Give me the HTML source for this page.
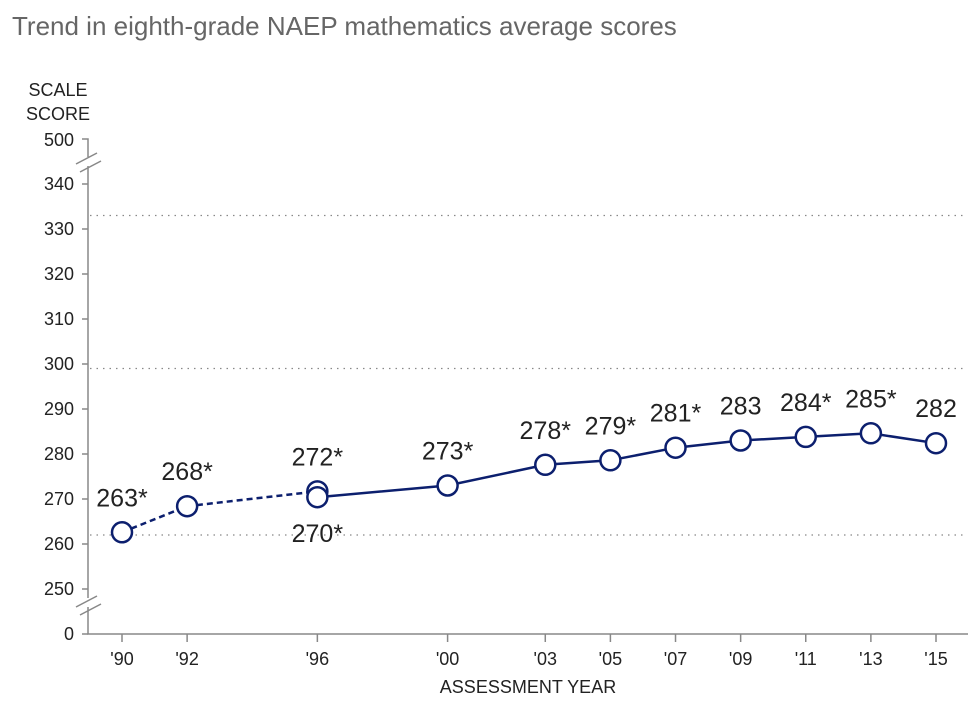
<!DOCTYPE html>
<html><head><meta charset="utf-8"><style>
body{margin:0;background:#fff;}
svg{display:block;font-family:"Liberation Sans",sans-serif;}
</style></head><body>
<svg id="c" width="977" height="706">
<text x="12" y="35" font-size="26" fill="#666">Trend in eighth-grade NAEP mathematics average scores</text>
<text x="58" y="96" font-size="18" fill="#222" text-anchor="middle">SCALE</text>
<text x="58" y="120" font-size="18" fill="#222" text-anchor="middle">SCORE</text>
<text x="528" y="693" font-size="18" fill="#222" text-anchor="middle">ASSESSMENT YEAR</text>
<g id="g"></g>
</svg>
<script>
const years=[1990,1992,1996,2000,2003,2005,2007,2009,2011,2013,2015];
const yearLabels=["'90","'92","'96","'00","'03","'05","'07","'09","'11","'13","'15"];
const dashedYears=[1990,1992,1996];
const dashedScores=[262.6,268.4,271.7];
const solidYears=[1996,2000,2003,2005,2007,2009,2011,2013,2015];
const solidScores=[270.4,273,277.6,278.6,281.4,283,283.8,284.6,282.4];
const dashedLabels=["263*","268*","272*"];
const solidLabels=["270*","273*","278*","279*","281*","283","284*","285*","282"];
const yTicks=[250,260,270,280,290,300,310,320,330,340];
const refLines=[333,299,262];
const NS="http://www.w3.org/2000/svg";
const g=document.getElementById('g');
const x=yr=>122+(yr-1990)*32.56;
const y=v=>544-(v-260)*4.5;
function el(t,a,p){const e=document.createElementNS(NS,t);for(const k in a)e.setAttribute(k,a[k]);(p||g).appendChild(e);return e;}
refLines.forEach((v,i)=>{const l=el('line',{x1:90,x2:966,y1:y(v),y2:y(v),stroke:'#888','stroke-width':1.2,'stroke-dasharray':'1.5 5'});

});
const ax='#888';
let a=el('path',{d:'M82 139H88V157M88 166V598M88 607V634H968',fill:'none',stroke:ax,'stroke-width':1.5});


[[157],[600]].forEach(([b])=>{el('line',{x1:76,y1:b+7,x2:97,y2:b-4,stroke:ax,'stroke-width':1.5});el('line',{x1:80,y1:b+15,x2:101,y2:b+4,stroke:ax,'stroke-width':1.5});});
el('line',{x1:82,x2:88,y1:634,y2:634,stroke:ax,'stroke-width':1.5});
const lab=(t,xx,yy)=>{const e=el('text',{x:xx,y:yy,'font-size':18,fill:'#222','text-anchor':'end'});e.textContent=t;return e;};
let t=lab('500',74,146);
t=lab('0',74,640);
yTicks.forEach(v=>{el('line',{x1:82,x2:88,y1:y(v),y2:y(v),stroke:ax,'stroke-width':1.5});
const e=lab(String(v),74,y(v)+6);

});
years.forEach((yr,i)=>{el('line',{x1:x(yr),x2:x(yr),y1:634,y2:642,stroke:ax,'stroke-width':1.5});
const e=el('text',{x:x(yr),y:665,'font-size':18,fill:'#222','text-anchor':'middle'});e.textContent=yearLabels[i];

});
const C='#0c1f6e';
const pts=(ys,vs)=>ys.map((yr,i)=>x(yr)+','+y(vs[i])).join(' ');
let d=el('polyline',{points:pts(dashedYears,dashedScores),fill:'none',stroke:C,'stroke-width':2.5,'stroke-dasharray':'6 4'});


let s=el('polyline',{points:pts(solidYears,solidScores),fill:'none',stroke:C,'stroke-width':2.5});


function pt(yr,v,txt,below){const c=el('circle',{cx:x(yr),cy:y(v),r:10,fill:'#fff',stroke:C,'stroke-width':2.5});


const e=el('text',{x:x(yr),y:below?y(v)+45:y(v)-26,'font-size':25,fill:'#222','text-anchor':'middle'});e.textContent=txt;

}
dashedYears.forEach((yr,i)=>pt(yr,dashedScores[i],dashedLabels[i],false));
solidYears.forEach((yr,i)=>pt(yr,solidScores[i],solidLabels[i],i===0));
</script>
</body></html>
